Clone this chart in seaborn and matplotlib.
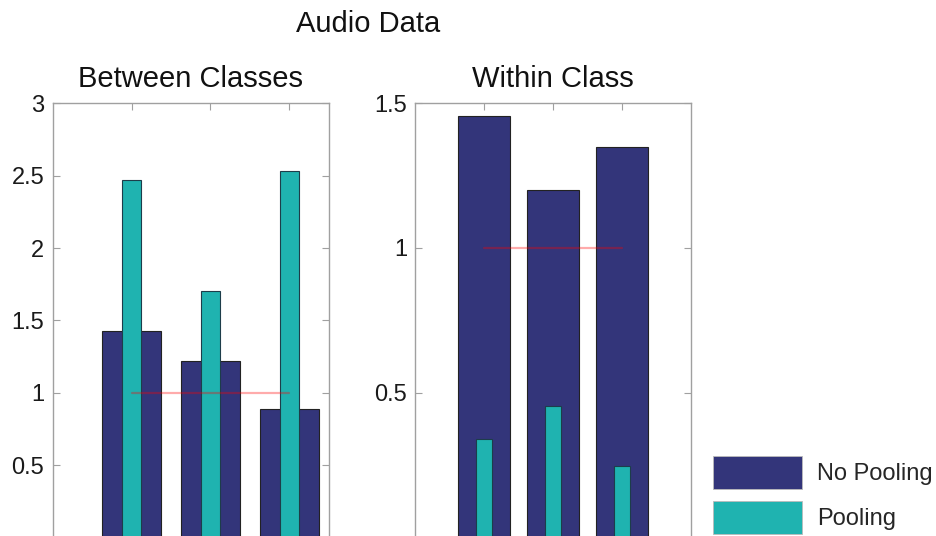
import matplotlib
matplotlib.use("Agg")
import matplotlib.pyplot as plt
from matplotlib.patches import Patch
import pandas as pd
import seaborn as sns

# Condition index for each bar group
categories = [1, 2, 3]

# Between-class ratios
between_no_pooling = [1.43, 1.22, 0.89]
between_pooling = [2.47, 1.70, 2.53]

# Within-class ratios
within_no_pooling = [1.455, 1.20, 1.35]
within_pooling = [0.34, 0.455, 0.245]

reference_level = 1.0
series_labels = ["No Pooling", "Pooling"]
titles = ["Between Classes", "Within Class"]
suptitle = "Audio Data"

NAVY = "#33357a"
TEAL = "#1fb3b0"
SPINE = "#a0a0a0"

sns.set_style("white")
plt.rcParams["font.family"] = ["Liberation Sans", "DejaVu Sans"]

fig = plt.figure(figsize=(9.37, 5.36), dpi=100)
W, H = 937.0, 536.0


def px_axes(x0, x1, top, bottom):
    return fig.add_axes([x0 / W, (H - bottom) / H, (x1 - x0) / W, (bottom - top) / H])


ax_left = px_axes(52.7, 328.7, 103.3, 537.5)
ax_right = px_axes(415.3, 691.0, 103.3, 537.4)

panels = [
    (ax_left, between_no_pooling, between_pooling, (0, 3.5), (0, 3), [0.5, 1, 1.5, 2, 2.5, 3]),
    (ax_right, within_no_pooling, within_pooling, (0, 4), (0, 1.5), [0.5, 1, 1.5]),
]

for (ax, wide, narrow, xlim, ylim, yticks), title in zip(panels, titles):
    df = pd.DataFrame({"cat": categories, "wide": wide, "narrow": narrow})
    sns.barplot(data=df, x="cat", y="wide", native_scale=True, width=0.75,
                color=NAVY, saturation=1, edgecolor="#222222", linewidth=0.8, ax=ax)
    sns.barplot(data=df, x="cat", y="narrow", native_scale=True, width=0.24,
                color=TEAL, saturation=1, edgecolor="#1d3d4a", linewidth=0.8, ax=ax)
    ax.plot([categories[0], categories[-1]], [reference_level, reference_level],
            color="red", alpha=0.33, linewidth=1.6, zorder=5)
    ax.set_xlim(*xlim)
    ax.set_ylim(*ylim)
    ax.set_xticks(categories)
    ax.set_xticklabels([])
    ax.set_yticks(yticks)
    ax.set_yticklabels([f"{t:g}" for t in yticks])
    ax.set_xlabel("")
    ax.set_ylabel("")
    ax.tick_params(direction="in", length=5, width=0.8, color=SPINE,
                   left=True, right=True, top=True, bottom=True,
                   labelsize=17, labelcolor="#1a1a1a", pad=6)
    for s in ax.spines.values():
        s.set_visible(True)
        s.set_color(SPINE)
        s.set_linewidth(1.0)
    ax.set_title(title, fontsize=21, color="#111111", pad=12)

fig.text(368 / W, (H - 31.7) / H, suptitle, ha="center", va="baseline",
         fontsize=21, color="#111111")

handles = [Patch(facecolor=NAVY, edgecolor="#bbbbbb", linewidth=0.6),
           Patch(facecolor=TEAL, edgecolor="#bbbbbb", linewidth=0.6)]
fig.legend(handles, series_labels, loc="upper left",
           bbox_to_anchor=(713 / W, (H - 456) / H), frameon=False,
           fontsize=17, handlelength=3.77, handleheight=1.75,
           labelspacing=0.52, handletextpad=0.64, borderpad=0, borderaxespad=0)

fig.savefig("out.png", dpi=100)
